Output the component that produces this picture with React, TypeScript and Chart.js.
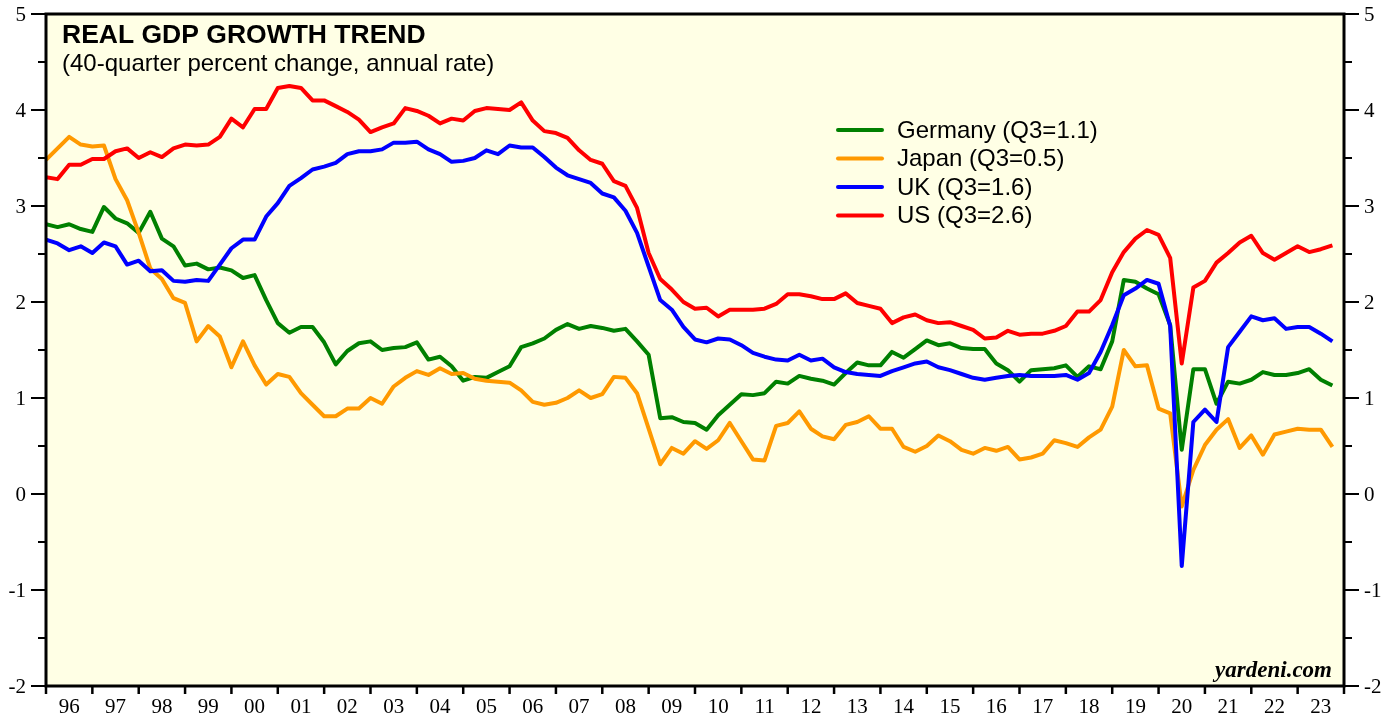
import { useEffect, useRef } from "react";
import { Chart, registerables } from "chart.js";

Chart.register(...registerables);

// x-axis year labels (each label sits in the middle of its year)
const yearLabels = [
  "96", "97", "98", "99", "00", "01", "02", "03", "04", "05", "06", "07", "08", "09",
  "10", "11", "12", "13", "14", "15", "16", "17", "18", "19", "20", "21", "22", "23",
];
// quarterly data, first value = 1995Q4 (plotted at the start of 1996), last = 2023Q3
const firstYear = 1996;
const yTickLabels = [5, 4, 3, 2, 1, 0, -1, -2];

const germany = [
  2.81, 2.78, 2.81, 2.76, 2.73, 2.99, 2.87, 2.82, 2.72, 2.94, 2.66, 2.58, 2.38, 2.40, 2.34, 2.36, 2.33, 2.25, 2.28, 2.02, 1.78, 1.68, 1.74, 1.74,
  1.58, 1.35, 1.49, 1.57, 1.59, 1.50, 1.52, 1.53, 1.58, 1.40, 1.43, 1.33, 1.18, 1.22, 1.21, 1.27, 1.33, 1.53, 1.57, 1.62, 1.71, 1.77, 1.72, 1.75,
  1.73, 1.70, 1.72, 1.59, 1.45, 0.79, 0.80, 0.75, 0.74, 0.67, 0.82, 0.93, 1.04, 1.03, 1.05, 1.17, 1.15, 1.23, 1.20, 1.18, 1.14, 1.26, 1.37,
  1.34, 1.34, 1.48, 1.42, 1.51, 1.60, 1.55, 1.57, 1.52, 1.51, 1.51, 1.36, 1.29, 1.17, 1.29, 1.30, 1.31, 1.34, 1.22, 1.33, 1.30, 1.59, 2.23,
  2.21, 2.14, 2.08, 1.76, 0.46, 1.30, 1.30, 0.94, 1.17, 1.15, 1.19, 1.27, 1.24, 1.24, 1.26, 1.30, 1.19, 1.13,
];
const japan = [
  3.48, 3.60, 3.72, 3.64, 3.62, 3.63, 3.28, 3.06, 2.72, 2.35, 2.24, 2.04, 1.99, 1.59, 1.75, 1.64, 1.32, 1.59, 1.34, 1.14, 1.25, 1.22, 1.05, 0.93,
  0.81, 0.81, 0.89, 0.89, 1.00, 0.94, 1.12, 1.21, 1.28, 1.24, 1.31, 1.25, 1.26, 1.20, 1.18, 1.17, 1.16, 1.08, 0.96, 0.93, 0.95, 1.00, 1.08, 1.00,
  1.04, 1.22, 1.21, 1.05, 0.68, 0.31, 0.48, 0.42, 0.55, 0.47, 0.56, 0.74, 0.55, 0.36, 0.35, 0.71, 0.74, 0.86, 0.68, 0.60, 0.57, 0.72, 0.75,
  0.81, 0.68, 0.68, 0.49, 0.44, 0.50, 0.61, 0.55, 0.46, 0.42, 0.48, 0.45, 0.49, 0.36, 0.38, 0.42, 0.56, 0.53, 0.49, 0.59, 0.67, 0.91, 1.50,
  1.33, 1.34, 0.89, 0.84, -0.13, 0.25, 0.51, 0.67, 0.78, 0.48, 0.61, 0.41, 0.62, 0.65, 0.68, 0.67, 0.67, 0.49,
];
const uk = [
  2.65, 2.61, 2.54, 2.58, 2.51, 2.62, 2.58, 2.39, 2.43, 2.32, 2.33, 2.22, 2.21, 2.23, 2.22, 2.39, 2.56, 2.65, 2.65, 2.89, 3.03, 3.21, 3.29, 3.38,
  3.41, 3.45, 3.54, 3.57, 3.57, 3.59, 3.66, 3.66, 3.67, 3.59, 3.54, 3.46, 3.47, 3.50, 3.58, 3.54, 3.63, 3.61, 3.61, 3.51, 3.40, 3.32, 3.28, 3.24,
  3.13, 3.09, 2.95, 2.72, 2.37, 2.02, 1.92, 1.74, 1.61, 1.58, 1.62, 1.61, 1.55, 1.47, 1.43, 1.40, 1.39, 1.45, 1.39, 1.41, 1.32, 1.27, 1.25,
  1.24, 1.23, 1.28, 1.32, 1.36, 1.38, 1.32, 1.29, 1.25, 1.21, 1.19, 1.21, 1.23, 1.24, 1.23, 1.23, 1.23, 1.24, 1.19, 1.26, 1.48, 1.76, 2.07,
  2.14, 2.23, 2.19, 1.75, -0.75, 0.75, 0.88, 0.75, 1.53, 1.69, 1.85, 1.81, 1.83, 1.72, 1.74, 1.74, 1.67, 1.59,
];
const us = [
  3.30, 3.28, 3.43, 3.43, 3.49, 3.49, 3.57, 3.60, 3.50, 3.56, 3.51, 3.60, 3.64, 3.63, 3.64, 3.72, 3.91, 3.82, 4.01, 4.01, 4.23, 4.25, 4.23, 4.10,
  4.10, 4.04, 3.98, 3.90, 3.77, 3.82, 3.86, 4.02, 3.99, 3.94, 3.86, 3.91, 3.89, 3.99, 4.02, 4.01, 4.00, 4.08, 3.89, 3.78, 3.76, 3.71, 3.58, 3.48,
  3.44, 3.26, 3.21, 2.98, 2.51, 2.24, 2.13, 2.00, 1.93, 1.94, 1.85, 1.92, 1.92, 1.92, 1.93, 1.98, 2.08, 2.08, 2.06, 2.03, 2.03, 2.09, 1.99,
  1.96, 1.93, 1.78, 1.84, 1.87, 1.81, 1.78, 1.79, 1.75, 1.71, 1.62, 1.63, 1.70, 1.66, 1.67, 1.67, 1.70, 1.75, 1.90, 1.90, 2.02, 2.31, 2.52,
  2.66, 2.75, 2.70, 2.46, 1.36, 2.15, 2.22, 2.41, 2.51, 2.62, 2.69, 2.51, 2.44, 2.51, 2.58, 2.52, 2.55, 2.59,
];

const seriesNames = ["Germany (Q3=1.1)", "Japan (Q3=0.5)", "UK (Q3=1.6)", "US (Q3=2.6)"];
const seriesColors = ["#008000", "#FF9900", "#0000FF", "#FF0000"];

const titleText = "REAL GDP GROWTH TREND";
const subtitleText = "(40-quarter percent change, annual rate)";
const sourceText = "yardeni.com";

const SANS = "'Liberation Sans', Arial, sans-serif";
const SERIF = "'Liberation Serif', 'Times New Roman', serif";

export default function App() {
  const ref = useRef<HTMLCanvasElement | null>(null);

  useEffect(() => {
    document.body.style.margin = "0";
    const canvas = ref.current;
    if (!canvas) return;
    const series = [germany, japan, uk, us];
    const yMin = yTickLabels[yTickLabels.length - 1];
    const yMax = yTickLabels[0];

    const decor = {
      id: "decor",
      beforeDraw(chart: any) {
        const { ctx, chartArea: a } = chart;
        ctx.save();
        ctx.fillStyle = "#ffffff";
        ctx.fillRect(0, 0, chart.width, chart.height);
        ctx.fillStyle = "#FFFFE5";
        ctx.fillRect(a.left, a.top, a.right - a.left, a.bottom - a.top);
        ctx.restore();
      },
      afterDraw(chart: any) {
        const { ctx, chartArea: a, scales } = chart;
        const ys = scales.y;
        const xs = scales.x;
        ctx.save();
        ctx.strokeStyle = "#000";
        ctx.lineWidth = 2;
        for (let v = yMin; v <= yMax + 1e-9; v += 0.5) {
          const py = Math.round(ys.getPixelForValue(v));
          const len = Number.isInteger(v) ? 15 : 8;
          ctx.beginPath();
          ctx.moveTo(a.left - len, py);
          ctx.lineTo(a.left, py);
          ctx.moveTo(a.right, py);
          ctx.lineTo(a.right + len, py);
          ctx.stroke();
        }
        ctx.lineWidth = 2.5;
        for (let k = 0; k <= yearLabels.length; k++) {
          const px = xs.getPixelForValue(firstYear + k);
          ctx.beginPath();
          ctx.moveTo(px, a.bottom);
          ctx.lineTo(px, a.bottom + 8);
          ctx.stroke();
        }
        ctx.lineWidth = 3;
        ctx.strokeRect(a.left, a.top, a.right - a.left, a.bottom - a.top);

        // axis labels
        ctx.fillStyle = "#000";
        ctx.font = `21px ${SERIF}`;
        ctx.textBaseline = "middle";
        for (const v of yTickLabels) {
          const py = ys.getPixelForValue(v) + 1;
          ctx.textAlign = "right";
          ctx.fillText(String(v), 26, py);
          ctx.textAlign = "left";
          ctx.fillText(String(v), 1364, py);
        }
        ctx.textAlign = "center";
        yearLabels.forEach((lab, k) => {
          const px = xs.getPixelForValue(firstYear + k + 0.5);
          ctx.fillText(lab, px, 707);
        });

        // title block
        ctx.textAlign = "left";
        ctx.textBaseline = "alphabetic";
        ctx.font = `bold 26.5px ${SANS}`;
        ctx.fillText(titleText, 62, 43);
        ctx.font = `24px ${SANS}`;
        ctx.fillText(subtitleText, 62, 71);

        // legend
        const rowY = [130, 158.5, 187, 215.5];
        for (let i = 0; i < seriesNames.length; i++) {
          ctx.strokeStyle = seriesColors[i];
          ctx.lineWidth = 4;
          ctx.lineCap = "round";
          ctx.beginPath();
          ctx.moveTo(838, rowY[i]);
          ctx.lineTo(882, rowY[i]);
          ctx.stroke();
          ctx.fillStyle = "#000";
          ctx.textBaseline = "middle";
          ctx.font = `24px ${SANS}`;
          ctx.fillText(seriesNames[i], 897, rowY[i] + 1);
        }

        // source
        ctx.textBaseline = "alphabetic";
        ctx.textAlign = "right";
        ctx.font = `italic bold 23px ${SERIF}`;
        ctx.fillText(sourceText, 1332, 677);
        ctx.restore();
      },
    };

    const chart = new Chart(canvas, {
      type: "line",
      data: {
        datasets: series.map((vals, i) => ({
          label: seriesNames[i],
          data: vals.map((v, j) => ({ x: firstYear + j / 4, y: v })),
          borderColor: seriesColors[i],
          backgroundColor: seriesColors[i],
          borderWidth: 4,
          pointRadius: 0,
          tension: 0,
          borderJoinStyle: "round" as const,
          fill: false,
          order: series.length - 1 - i,
        })),
      },
      options: {
        animation: false,
        responsive: false,
        devicePixelRatio: 1,
        events: [],
        layout: { padding: { top: 14, left: 0, right: 0, bottom: 0 } },
        plugins: {
          legend: { display: false },
          tooltip: { enabled: false },
          title: { display: false },
        },
        scales: {
          x: {
            type: "linear",
            min: firstYear,
            max: firstYear + yearLabels.length,
            grid: { display: false, drawTicks: false },
            border: { display: false },
            ticks: { display: false },
            afterFit: (s: any) => {
              s.height = 31;
            },
          },
          y: {
            type: "linear",
            position: "left",
            min: yMin,
            max: yMax,
            grid: { display: false, drawTicks: false },
            border: { display: false },
            ticks: { display: false },
            afterFit: (s: any) => {
              s.width = 46;
            },
          },
          y2: {
            type: "linear",
            position: "right",
            min: yMin,
            max: yMax,
            grid: { display: false, drawTicks: false },
            border: { display: false },
            ticks: { display: false },
            afterFit: (s: any) => {
              s.width = 53;
            },
          },
        },
      },
      plugins: [decor],
    } as any);

    return () => {
      chart.destroy();
    };
  }, []);

  return (
    <canvas
      ref={ref}
      width={1397}
      height={717}
      style={{ display: "block", position: "absolute", left: 0, top: 0, width: 1397, height: 717 }}
    />
  );
}
